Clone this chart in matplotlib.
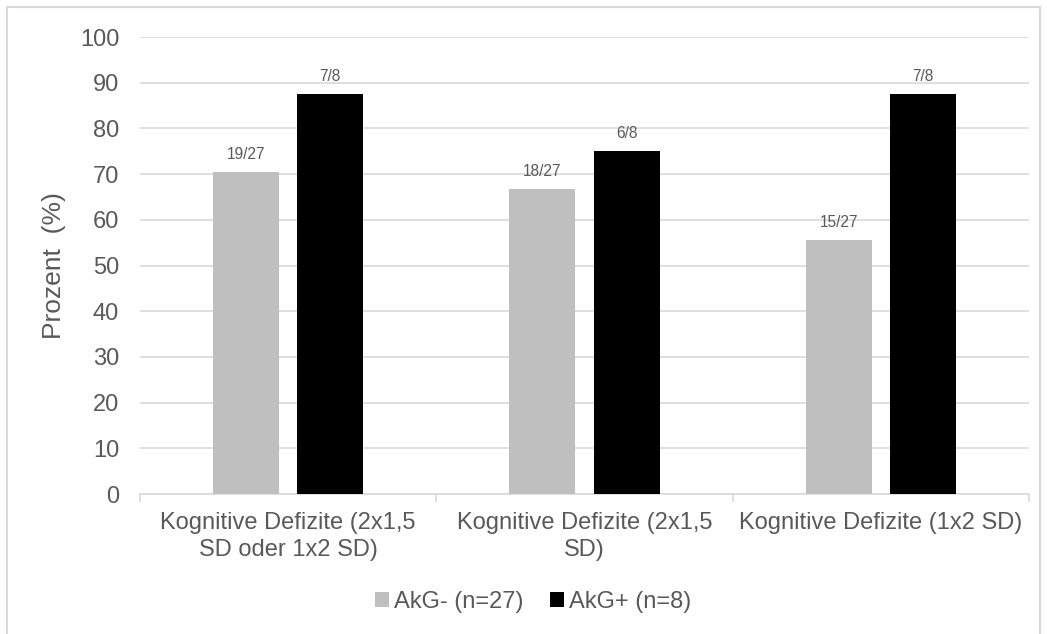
import matplotlib.pyplot as plt
from matplotlib.patches import Rectangle
import numpy as np

plt.rcParams["font.family"] = ["Liberation Sans", "DejaVu Sans"]

categories = ["Kognitive Defizite (2x1,5\nSD oder 1x2 SD)",
              "Kognitive Defizite (2x1,5\nSD)",
              "Kognitive Defizite (1x2 SD)"]
akg_neg = [70.37, 66.67, 55.56]
akg_pos = [87.5, 75.0, 87.5]
labels_neg = ["19/27", "18/27", "15/27"]
labels_pos = ["7/8", "6/8", "7/8"]
series_names = ["AkG- (n=27)", "AkG+ (n=8)"]
yticks = list(range(0, 101, 10))

TXT = "#595959"
GRID = "#d9d9d9"
FS = 17

fig = plt.figure(figsize=(10.47, 6.34), dpi=100)
fig.add_artist(Rectangle((7 / 1047, -0.01), 1033 / 1047, 1 - 7 / 634 + 0.01,
                         transform=fig.transFigure, fill=False,
                         edgecolor=GRID, linewidth=1.5))
ax = fig.add_axes([0.1337, 0.2208, 0.8491, 0.7208])

x = np.arange(len(categories))
w = 0.223
off = 0.142
b1 = ax.bar(x - off, akg_neg, w, color="#bfbfbf", label=series_names[0], zorder=3)
b2 = ax.bar(x + off, akg_pos, w, color="#000000", label=series_names[1], zorder=3)

for bars, labs in ((b1, labels_neg), (b2, labels_pos)):
    for r, t in zip(bars, labs):
        ax.text(r.get_x() + r.get_width() / 2, r.get_height() + 2.2, t,
                ha="center", va="bottom", fontsize=11.2, color=TXT)

ax.set_xlim(-0.5, len(categories) - 0.5)
ax.set_ylim(0, 100)
ax.set_yticks(yticks)
ax.yaxis.grid(True, color=GRID, linewidth=1.2, zorder=0)
ax.set_axisbelow(True)

ax.set_xticks(x)
ax.set_xticklabels(categories, fontsize=FS, color=TXT, linespacing=1.3)
ax.set_xticks(np.arange(-0.5, len(categories), 0.5), minor=True)
ax.tick_params(axis="x", which="major", length=0, pad=13)
ax.tick_params(axis="x", which="minor", length=6, color=GRID, width=1.2)
ax.tick_params(axis="y", length=0, labelsize=FS, labelcolor=TXT, pad=15)

for s in ("top", "right", "left"):
    ax.spines[s].set_visible(False)
ax.spines["bottom"].set_color(GRID)
ax.spines["bottom"].set_linewidth(1.2)

ax.set_ylabel("Prozent  (%)", fontsize=19, color=TXT, labelpad=10)

ax.legend(loc="center", bbox_to_anchor=(533 / 1047, 1 - 602 / 634),
          bbox_transform=fig.transFigure,
          ncol=2, frameon=False, fontsize=FS, labelcolor=TXT,
          handlelength=0.6, handleheight=0.6, handletextpad=0.2, columnspacing=1.15)

fig.savefig("out.png", dpi=100)
